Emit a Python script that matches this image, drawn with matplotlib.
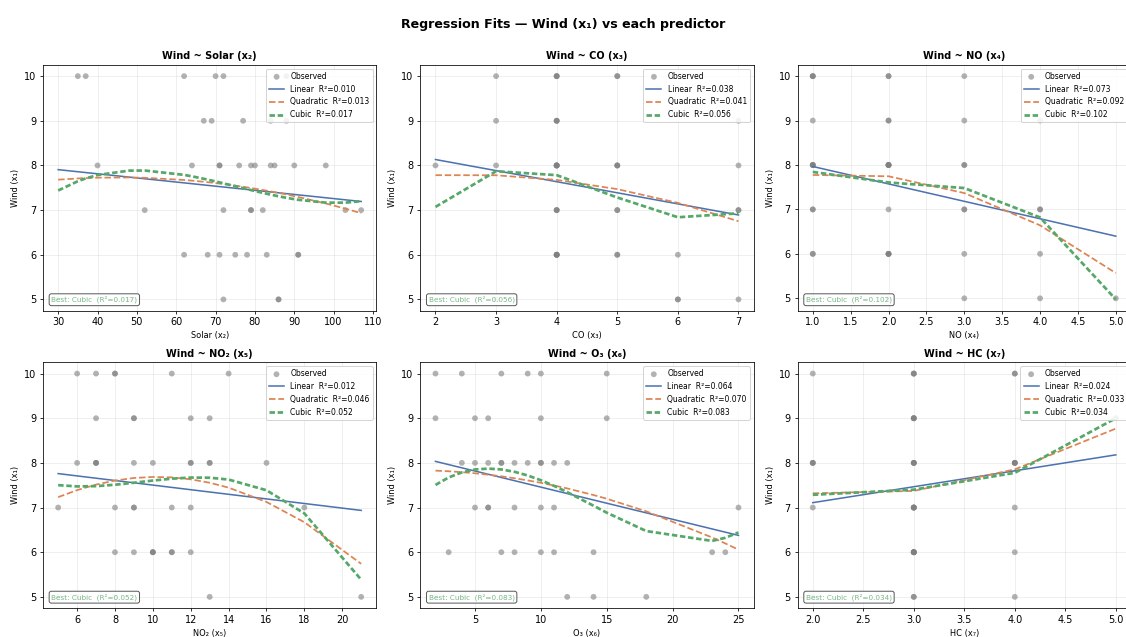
import matplotlib
matplotlib.use("Agg")
import matplotlib.pyplot as plt
import numpy as np

# -------------------------- data (42 observations) --------------------------
wind = [8, 7, 7, 10, 6, 8, 9, 5, 7, 8, 6, 6, 7, 10, 10, 9, 8, 8, 9, 9, 10,
        9, 8, 5, 6, 8, 6, 8, 6, 10, 8, 7, 5, 6, 10, 8, 5, 5, 7, 7, 6, 8]
solar = [98, 107, 103, 88, 91, 90, 84, 72, 82, 64, 71, 91, 72, 70, 72, 77, 76, 71, 67, 69, 62,
         88, 80, 30, 83, 84, 78, 79, 62, 37, 71, 52, 48, 75, 35, 85, 86, 86, 79, 79, 68, 40]
co = [7, 4, 4, 5, 4, 5, 7, 6, 5, 5, 5, 4, 7, 4, 4, 4, 4, 5, 4, 3, 5,
      4, 4, 3, 5, 3, 4, 2, 4, 3, 4, 4, 6, 4, 4, 4, 3, 7, 7, 5, 6, 4]
no = [2, 3, 3, 2, 2, 2, 4, 4, 1, 2, 4, 2, 4, 2, 1, 1, 1, 3, 2, 3, 3,
      2, 2, 3, 1, 2, 2, 1, 3, 1, 1, 1, 5, 1, 1, 1, 1, 2, 4, 2, 2, 3]
no2 = [12, 9, 5, 8, 8, 12, 12, 21, 11, 13, 10, 12, 18, 11, 8, 9, 7, 16, 13, 9, 14,
       7, 13, 5, 10, 7, 11, 7, 9, 7, 10, 12, 8, 10, 6, 9, 6, 13, 9, 8, 11, 6]
o3 = [8, 5, 6, 15, 10, 12, 15, 14, 11, 9, 3, 7, 10, 7, 10, 10, 7, 4, 2, 5, 4,
      6, 11, 2, 23, 6, 11, 10, 8, 2, 7, 8, 4, 24, 9, 10, 12, 18, 25, 6, 14, 5]
hc = [2, 3, 3, 4, 3, 4, 5, 4, 3, 4, 3, 3, 3, 3, 3, 3, 3, 4, 3, 3, 4,
      3, 4, 3, 4, 3, 3, 3, 3, 3, 3, 4, 3, 3, 2, 2, 2, 2, 3, 2, 3, 2]

predictors = [solar, co, no, no2, o3, hc]
names = ["Solar (x₂)", "CO (x₃)", "NO (x₄)", "NO₂ (x₅)", "O₃ (x₆)", "HC (x₇)"]

# R² as printed in each legend: linear, quadratic, cubic
r2_lin = [0.010, 0.038, 0.073, 0.012, 0.064, 0.024]
r2_quad = [0.013, 0.041, 0.092, 0.046, 0.070, 0.033]
r2_cub = [0.017, 0.056, 0.102, 0.052, 0.083, 0.034]

# -------------------------- figure --------------------------
fig, axes = plt.subplots(2, 3, figsize=(1126 / 70, 637 / 70), dpi=70)
fig.subplots_adjust(left=0.0382, right=1.0044, top=0.898, bottom=0.0455,
                    wspace=0.132, hspace=0.211)
fig.suptitle("Regression Fits — Wind (x₁) vs each predictor",
             fontsize=13, fontweight="bold", y=0.972)

c_lin, c_quad, c_cub = "#4c72b0", "#dd8452", "#55a868"
y = np.array(wind, dtype=float)

for ax, xv, name, rl, rq, rc in zip(axes.flat, predictors, names, r2_lin, r2_quad, r2_cub):
    x = np.array(xv, dtype=float)
    xs = np.unique(x)  # fitted values drawn at the sorted observed x

    ax.scatter(x, y, s=36, color="gray", alpha=0.6, edgecolors="none",
               label="Observed", zorder=2)
    p1 = np.polyfit(x, y, 1)
    p2 = np.polyfit(x, y, 2)
    p3 = np.polyfit(x, y, 3)
    ax.plot(xs, np.polyval(p1, xs), color=c_lin, lw=1.6,
            label=f"Linear  R²={rl:.3f}", zorder=3)
    ax.plot(xs, np.polyval(p2, xs), color=c_quad, lw=1.8, ls="--",
            label=f"Quadratic  R²={rq:.3f}", zorder=3)
    ax.plot(xs, np.polyval(p3, xs), color=c_cub, lw=2.8, ls=(0, (2, 1)),
            label=f"Cubic  R²={rc:.3f}", zorder=3)

    ax.set_title(f"Wind ~ {name}", fontsize=10, fontweight="bold")
    ax.set_xlabel(name, fontsize=8.5)
    ax.set_ylabel("Wind (x₁)", fontsize=8.5)
    ax.tick_params(labelsize=10)
    ax.grid(True, alpha=0.25)
    ax.legend(loc="upper right", fontsize=7.8, framealpha=0.85)
    ax.text(0.025, 0.035, f"Best: Cubic  (R²={rc:.3f})", transform=ax.transAxes,
            fontsize=7.5, color=c_cub, alpha=0.8, zorder=5,
            bbox=dict(boxstyle="round,pad=0.3", facecolor="white", edgecolor="#444444", alpha=0.9))

fig.savefig("out.png", dpi=70)
